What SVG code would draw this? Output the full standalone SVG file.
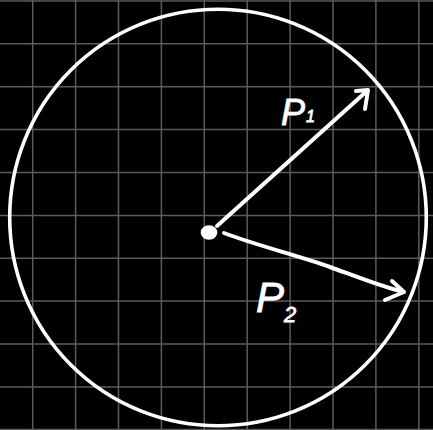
<svg xmlns="http://www.w3.org/2000/svg" width="433" height="430" viewBox="0 0 433 430">
<style>
.grid line{stroke:#5c5c5c;stroke-width:1.5}
.ink{fill:none;stroke:#fff;stroke-width:4;stroke-linecap:round;stroke-linejoin:round}
.lbl{font-family:"Liberation Sans",Arial,sans-serif;fill:#fff;stroke:#fff;stroke-width:0.8;font-style:italic}
</style>
<rect width="433" height="430" fill="#000"/>
<g id="grid" class="grid">
<line x1="32.7" y1="0" x2="32.7" y2="430"/>
<line x1="75.6" y1="0" x2="75.6" y2="430"/>
<line x1="118.5" y1="0" x2="118.5" y2="430"/>
<line x1="161.4" y1="0" x2="161.4" y2="430"/>
<line x1="204.3" y1="0" x2="204.3" y2="430"/>
<line x1="247.2" y1="0" x2="247.2" y2="430"/>
<line x1="290.1" y1="0" x2="290.1" y2="430"/>
<line x1="333" y1="0" x2="333" y2="430"/>
<line x1="375.9" y1="0" x2="375.9" y2="430"/>
<line x1="418.8" y1="0" x2="418.8" y2="430"/>
<line x1="0" y1="1" x2="433" y2="1"/>
<line x1="0" y1="43.8" x2="433" y2="43.8"/>
<line x1="0" y1="86.7" x2="433" y2="86.7"/>
<line x1="0" y1="129.6" x2="433" y2="129.6"/>
<line x1="0" y1="172.5" x2="433" y2="172.5"/>
<line x1="0" y1="215.6" x2="433" y2="215.6"/>
<line x1="0" y1="258.3" x2="433" y2="258.3"/>
<line x1="0" y1="301.1" x2="433" y2="301.1"/>
<line x1="0" y1="344" x2="433" y2="344"/>
<line x1="0" y1="386.9" x2="433" y2="386.9"/>
<line x1="0" y1="429.6" x2="433" y2="429.6"/>
</g>
<g id="circle">
<circle cx="218" cy="217.5" r="208.3" fill="none" stroke="#fff" stroke-width="3.6"/>
</g>
<g id="center">
<ellipse cx="209" cy="232.5" rx="8.3" ry="7.3" fill="#fff"/>
</g>
<g id="connectors">
<path class="ink" d="M217,226 L368,90 M356,91 L368,90 L365,109"/>
<path class="ink" d="M224,233 C255,245 300,256 330,267 S385,288 404,292 M392,281 L404,292 L385,300"/>
</g>
<g id="label-p1">
<text class="lbl" x="281" y="125" font-size="36">P<tspan font-size="16" dx="1" dy="-3">1</tspan></text>
</g>
<g id="label-p2">
<text class="lbl" x="256" y="312" font-size="42">P<tspan font-size="22" dx="0" dy="10">2</tspan></text>
</g>
</svg>
